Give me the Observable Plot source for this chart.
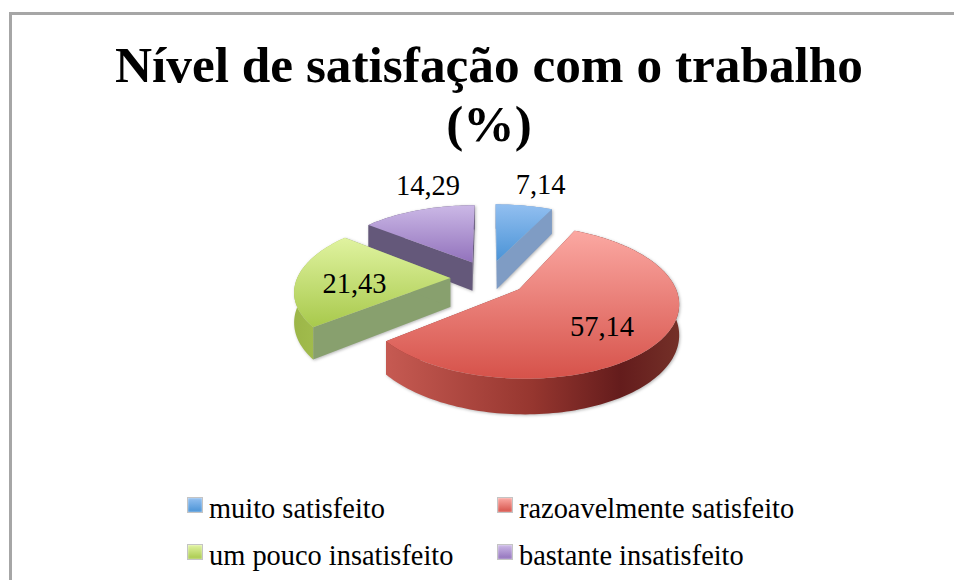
<!DOCTYPE html>
<html><head><meta charset="utf-8">
<script src="https://cdn.jsdelivr.net/npm/d3@7"></script>
<script src="https://cdn.jsdelivr.net/npm/@observablehq/plot@0.6"></script>
<style>
html,body{margin:0;padding:0;background:#fff;width:954px;height:580px;overflow:hidden}
#frame{position:absolute;left:9px;top:12px;width:1000px;height:700px;border:3px solid #a6a6a6;box-sizing:border-box}
#title{position:absolute;left:0;top:35px;width:978px;text-align:center;font:bold 51.3px/59px "Liberation Serif",serif;color:#000}
#chart{position:absolute;left:0;top:165px}
#chart svg{display:block;background:transparent}
#chart svg.pie{filter:drop-shadow(1px 1px 1.5px rgba(0,0,0,.28))}
#chart svg.texts{position:absolute;left:0;top:0}
.lg{position:absolute;font:28.4px/30px "Liberation Serif",serif;color:#000;white-space:nowrap}
.sw{position:absolute;width:16px;height:16px;border:1px solid #c4c4c4;box-sizing:border-box;box-shadow:inset 0 0 2px rgba(255,255,255,.8)}
</style></head><body>
<div id="frame"></div>
<div id="title">Nível de satisfação com o trabalho<br>(%)</div>
<div id="chart"></div>
<div id="legend"></div>
<script>
const categories = ["muito satisfeito","razoavelmente satisfeito","um pouco insatisfeito","bastante insatisfeito"];
const values = [7.14,57.14,21.43,14.29];
const labels = ["7,14","57,14","21,43","14,29"];
const topColors = [["#92bff0","#4a93d6"],["#fba8a2","#d6524a"],["#e0f3a0","#a8c94c"],["#cbb8e6","#9272bc"]];
const wallColors = ["#7f9cc4","#8a2f2b","#88a06e","#64587a"];
const labelRadius = [1.46,0.665,0.62,1.47];
const labelFrac = [0.58,0.53,0.41,0.70];
const drawOrder = [3,0,2,1];

const k=0.16, explode=0.25, depth=0.41;
const pie=d3.pie().sort(null)(values);
function P(X,Y,h=0){const s=1/(1-k*Y);return {x:X*s,y:(Y+h)*s};}
function ground(i,r,a){const p=pie[i],m=(p.startAngle+p.endAngle)/2;
  return [explode*Math.sin(m)+r*Math.sin(a),-explode*Math.cos(m)-r*Math.cos(a)];}

const walls=[],tops=[],arcs=[];
pie.forEach((p,i)=>{
  const n=Math.max(8,Math.ceil((p.endAngle-p.startAngle)*40));
  const angs=d3.range(n+1).map(j=>p.startAngle+(p.endAngle-p.startAngle)*j/n);
  const C=ground(i,0,0);
  const rim=angs.map(a=>ground(i,1,a));
  for(const [id,e] of [["a",rim[0]],["b",rim[n]]]){
    [P(...C),P(...e),P(...e,depth),P(...C,depth)].forEach(q=>walls.push({...q,z:i+id,i}));
  }
  tops.push(...[P(...C),...rim.map(e=>P(...e))].map(q=>({...q,i})));
  [...rim.map(e=>P(...e)),...rim.slice().reverse().map(e=>P(...e,depth))].forEach(q=>arcs.push({...q,i}));
});

const labelData=pie.map((p,i)=>{
  const a=p.startAngle+(p.endAngle-p.startAngle)*labelFrac[i];
  return {...P(...ground(i,labelRadius[i],a)),t:labels[i]};
});

const defs=()=>{
  const d=d3.create("svg:defs");
  const grad=(id,stops,x2,y2)=>{const g=d.append("linearGradient").attr("id",id).attr("x1",0).attr("y1",0).attr("x2",x2).attr("y2",y2);
    stops.forEach(([o,c])=>g.append("stop").attr("offset",o).attr("stop-color",c));};
  topColors.forEach((c,i)=>grad("top"+i,[[0,c[0]],[1,c[1]]],0,1));
  grad("arc0",[[0,"#7f9cc4"],[1,"#7f9cc4"]],1,0);
  grad("arc1",[[0,"#c65a52"],[.5,"#96362f"],[.8,"#641c1c"],[1,"#743028"]],1,0);
  grad("arc2",[[0,"#9cb648"],[1,"#a9c453"]],1,0);
  grad("arc3",[[0,"#64587a"],[1,"#64587a"]],1,0);
  return d.node();
};

const marks=[defs];
for(const i of drawOrder){
  marks.push(Plot.line(walls.filter(d=>d.i===i),{x:"x",y:"y",z:"z",fill:wallColors[i],stroke:"none"}));
  marks.push(Plot.line(arcs.filter(d=>d.i===i),{x:"x",y:"y",fill:`url(#arc${i})`,stroke:"none"}));
  marks.push(Plot.line(tops.filter(d=>d.i===i),{x:"x",y:"y",fill:`url(#top${i})`,stroke:"none"}));
}

const cx=488,cy=112.5,Rx=153,Ry=71;
const frame={width:954,height:305,margin:0,
  x:{domain:[-1,1],range:[cx-Rx,cx+Rx],axis:null},
  y:{domain:[-1,1],range:[cy-Ry,cy+Ry],axis:null}};
document.getElementById("chart").append(
  Plot.plot({...frame,className:"pie",marks}),
  Plot.plot({...frame,className:"texts",marks:[
    Plot.text(labelData,{x:"x",y:"y",text:"t",fontSize:28.5,fontFamily:"Liberation Serif",fill:"#000"})
  ]})
);
const svgs=document.querySelectorAll("#chart svg");
svgs[0].classList.add("pie");svgs[1].classList.add("texts");

const legendPos=[[187,209,494],[497,519,494],[187,209,541],[497,519,541]];
const lg=document.getElementById("legend");
categories.forEach((c,i)=>{
  const [sx,tx,ty]=legendPos[i];
  const s=document.createElement("div");s.className="sw";s.style.left=sx+"px";s.style.top=(ty+3)+"px";
  s.style.background=`linear-gradient(${topColors[i][0]},${topColors[i][1]})`;lg.append(s);
  const t=document.createElement("div");t.className="lg";t.textContent=c;t.style.left=tx+"px";t.style.top=ty+"px";lg.append(t);
});
</script>
</body></html>
